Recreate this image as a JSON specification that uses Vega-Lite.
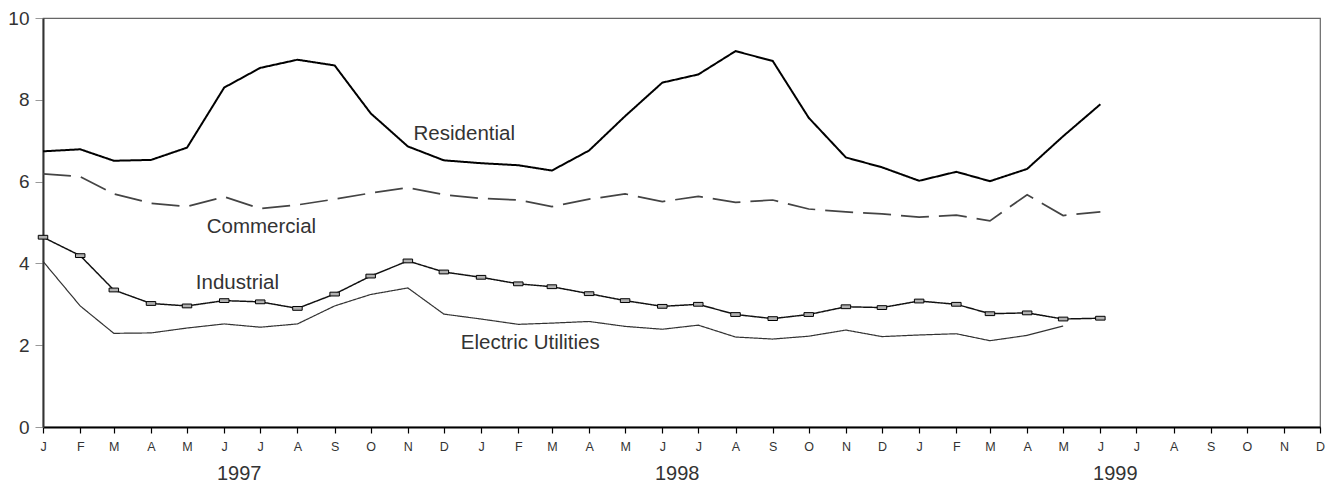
{
  "$schema": "https://vega.github.io/schema/vega-lite/v6.json",
  "width": 1277,
  "height": 409,
  "autosize": "none",
  "padding": {"left": 43, "top": 18, "right": 13, "bottom": 59},
  "background": "white",
  "config": {
    "view": {"stroke": "#666", "strokeWidth": 1.2},
    "font": "Liberation Sans",
    "axis": {"labelFont": "Liberation Sans", "grid": false}
  },
  "datasets": {
    "series": [
      {"d": "1997-01-01", "s": "Residential", "v": 6.74},
      {"d": "1997-02-01", "s": "Residential", "v": 6.79},
      {"d": "1997-03-01", "s": "Residential", "v": 6.51},
      {"d": "1997-04-01", "s": "Residential", "v": 6.53},
      {"d": "1997-05-01", "s": "Residential", "v": 6.83},
      {"d": "1997-06-01", "s": "Residential", "v": 8.30},
      {"d": "1997-07-01", "s": "Residential", "v": 8.78},
      {"d": "1997-08-01", "s": "Residential", "v": 8.98},
      {"d": "1997-09-01", "s": "Residential", "v": 8.84},
      {"d": "1997-10-01", "s": "Residential", "v": 7.67},
      {"d": "1997-11-01", "s": "Residential", "v": 6.86},
      {"d": "1997-12-01", "s": "Residential", "v": 6.52},
      {"d": "1998-01-01", "s": "Residential", "v": 6.45},
      {"d": "1998-02-01", "s": "Residential", "v": 6.40},
      {"d": "1998-03-01", "s": "Residential", "v": 6.27},
      {"d": "1998-04-01", "s": "Residential", "v": 6.76},
      {"d": "1998-05-01", "s": "Residential", "v": 7.60},
      {"d": "1998-06-01", "s": "Residential", "v": 8.42},
      {"d": "1998-07-01", "s": "Residential", "v": 8.62},
      {"d": "1998-08-01", "s": "Residential", "v": 9.19},
      {"d": "1998-09-01", "s": "Residential", "v": 8.95},
      {"d": "1998-10-01", "s": "Residential", "v": 7.56},
      {"d": "1998-11-01", "s": "Residential", "v": 6.59},
      {"d": "1998-12-01", "s": "Residential", "v": 6.35},
      {"d": "1999-01-01", "s": "Residential", "v": 6.02},
      {"d": "1999-02-01", "s": "Residential", "v": 6.24},
      {"d": "1999-03-01", "s": "Residential", "v": 6.01},
      {"d": "1999-04-01", "s": "Residential", "v": 6.31},
      {"d": "1999-05-01", "s": "Residential", "v": 7.11},
      {"d": "1999-06-01", "s": "Residential", "v": 7.89},
      {"d": "1997-01-01", "s": "Commercial", "v": 6.19},
      {"d": "1997-02-01", "s": "Commercial", "v": 6.12},
      {"d": "1997-03-01", "s": "Commercial", "v": 5.70},
      {"d": "1997-04-01", "s": "Commercial", "v": 5.47},
      {"d": "1997-05-01", "s": "Commercial", "v": 5.39},
      {"d": "1997-06-01", "s": "Commercial", "v": 5.63},
      {"d": "1997-07-01", "s": "Commercial", "v": 5.34},
      {"d": "1997-08-01", "s": "Commercial", "v": 5.43},
      {"d": "1997-09-01", "s": "Commercial", "v": 5.57},
      {"d": "1997-10-01", "s": "Commercial", "v": 5.72},
      {"d": "1997-11-01", "s": "Commercial", "v": 5.85},
      {"d": "1997-12-01", "s": "Commercial", "v": 5.68},
      {"d": "1998-01-01", "s": "Commercial", "v": 5.59},
      {"d": "1998-02-01", "s": "Commercial", "v": 5.55},
      {"d": "1998-03-01", "s": "Commercial", "v": 5.39},
      {"d": "1998-04-01", "s": "Commercial", "v": 5.57},
      {"d": "1998-05-01", "s": "Commercial", "v": 5.70},
      {"d": "1998-06-01", "s": "Commercial", "v": 5.51},
      {"d": "1998-07-01", "s": "Commercial", "v": 5.64},
      {"d": "1998-08-01", "s": "Commercial", "v": 5.49},
      {"d": "1998-09-01", "s": "Commercial", "v": 5.55},
      {"d": "1998-10-01", "s": "Commercial", "v": 5.33},
      {"d": "1998-11-01", "s": "Commercial", "v": 5.26},
      {"d": "1998-12-01", "s": "Commercial", "v": 5.21},
      {"d": "1999-01-01", "s": "Commercial", "v": 5.13},
      {"d": "1999-02-01", "s": "Commercial", "v": 5.18},
      {"d": "1999-03-01", "s": "Commercial", "v": 5.04},
      {"d": "1999-04-01", "s": "Commercial", "v": 5.68},
      {"d": "1999-05-01", "s": "Commercial", "v": 5.17},
      {"d": "1999-06-01", "s": "Commercial", "v": 5.26},
      {"d": "1997-01-01", "s": "Industrial", "v": 4.64},
      {"d": "1997-02-01", "s": "Industrial", "v": 4.19},
      {"d": "1997-03-01", "s": "Industrial", "v": 3.35},
      {"d": "1997-04-01", "s": "Industrial", "v": 3.02},
      {"d": "1997-05-01", "s": "Industrial", "v": 2.96},
      {"d": "1997-06-01", "s": "Industrial", "v": 3.09},
      {"d": "1997-07-01", "s": "Industrial", "v": 3.06},
      {"d": "1997-08-01", "s": "Industrial", "v": 2.90},
      {"d": "1997-09-01", "s": "Industrial", "v": 3.25},
      {"d": "1997-10-01", "s": "Industrial", "v": 3.69},
      {"d": "1997-11-01", "s": "Industrial", "v": 4.06},
      {"d": "1997-12-01", "s": "Industrial", "v": 3.79},
      {"d": "1998-01-01", "s": "Industrial", "v": 3.66},
      {"d": "1998-02-01", "s": "Industrial", "v": 3.50},
      {"d": "1998-03-01", "s": "Industrial", "v": 3.43},
      {"d": "1998-04-01", "s": "Industrial", "v": 3.26},
      {"d": "1998-05-01", "s": "Industrial", "v": 3.09},
      {"d": "1998-06-01", "s": "Industrial", "v": 2.95},
      {"d": "1998-07-01", "s": "Industrial", "v": 3.00},
      {"d": "1998-08-01", "s": "Industrial", "v": 2.75},
      {"d": "1998-09-01", "s": "Industrial", "v": 2.65},
      {"d": "1998-10-01", "s": "Industrial", "v": 2.75},
      {"d": "1998-11-01", "s": "Industrial", "v": 2.94},
      {"d": "1998-12-01", "s": "Industrial", "v": 2.92},
      {"d": "1999-01-01", "s": "Industrial", "v": 3.08},
      {"d": "1999-02-01", "s": "Industrial", "v": 3.00},
      {"d": "1999-03-01", "s": "Industrial", "v": 2.77},
      {"d": "1999-04-01", "s": "Industrial", "v": 2.79},
      {"d": "1999-05-01", "s": "Industrial", "v": 2.64},
      {"d": "1999-06-01", "s": "Industrial", "v": 2.66},
      {"d": "1997-01-01", "s": "Electric Utilities", "v": 4.05},
      {"d": "1997-02-01", "s": "Electric Utilities", "v": 2.96},
      {"d": "1997-03-01", "s": "Electric Utilities", "v": 2.29},
      {"d": "1997-04-01", "s": "Electric Utilities", "v": 2.30},
      {"d": "1997-05-01", "s": "Electric Utilities", "v": 2.42},
      {"d": "1997-06-01", "s": "Electric Utilities", "v": 2.52},
      {"d": "1997-07-01", "s": "Electric Utilities", "v": 2.44},
      {"d": "1997-08-01", "s": "Electric Utilities", "v": 2.52},
      {"d": "1997-09-01", "s": "Electric Utilities", "v": 2.96},
      {"d": "1997-10-01", "s": "Electric Utilities", "v": 3.24},
      {"d": "1997-11-01", "s": "Electric Utilities", "v": 3.40},
      {"d": "1997-12-01", "s": "Electric Utilities", "v": 2.76},
      {"d": "1998-01-01", "s": "Electric Utilities", "v": 2.64},
      {"d": "1998-02-01", "s": "Electric Utilities", "v": 2.51},
      {"d": "1998-03-01", "s": "Electric Utilities", "v": 2.54},
      {"d": "1998-04-01", "s": "Electric Utilities", "v": 2.58},
      {"d": "1998-05-01", "s": "Electric Utilities", "v": 2.46},
      {"d": "1998-06-01", "s": "Electric Utilities", "v": 2.39},
      {"d": "1998-07-01", "s": "Electric Utilities", "v": 2.49},
      {"d": "1998-08-01", "s": "Electric Utilities", "v": 2.20},
      {"d": "1998-09-01", "s": "Electric Utilities", "v": 2.15},
      {"d": "1998-10-01", "s": "Electric Utilities", "v": 2.22},
      {"d": "1998-11-01", "s": "Electric Utilities", "v": 2.37},
      {"d": "1998-12-01", "s": "Electric Utilities", "v": 2.21},
      {"d": "1999-01-01", "s": "Electric Utilities", "v": 2.25},
      {"d": "1999-02-01", "s": "Electric Utilities", "v": 2.28},
      {"d": "1999-03-01", "s": "Electric Utilities", "v": 2.11},
      {"d": "1999-04-01", "s": "Electric Utilities", "v": 2.24},
      {"d": "1999-05-01", "s": "Electric Utilities", "v": 2.47}
    ],
    "labels": [
      {"d": "1997-12-18", "label": "Residential", "v": 7.17},
      {"d": "1997-07-02", "label": "Commercial", "v": 4.90},
      {"d": "1997-06-12", "label": "Industrial", "v": 3.53},
      {"d": "1998-02-11", "label": "Electric Utilities", "v": 2.06}
    ]
  },
  "resolve": {"axis": {"x": "independent"}},
  "layer": [
    {
      "data": {"name": "series"},
      "mark": {"type": "line", "strokeCap": "butt", "strokeJoin": "miter"},
      "encoding": {
        "x": {
          "field": "d", "type": "temporal",
          "scale": {"type": "utc", "domain": [{"year": 1997, "month": 1, "date": 1, "utc": true}, {"year": 1999, "month": 12, "date": 1, "utc": true}], "nice": false},
          "axis": {
            "title": null, "orient": "bottom",
            "tickCount": {"interval": "month", "step": 1},
            "labelExpr": "utcFormat(datum.value, '%b')[0]",
            "labelFlush": false, "labelOverlap": false,
            "tickSize": 6, "tickColor": "#000", "tickWidth": 1.2,
            "domainColor": "#000", "domainWidth": 2,
            "labelFontSize": 12.5, "labelColor": "#333", "labelPadding": 7
          }
        },
        "y": {
          "field": "v", "type": "quantitative",
          "scale": {"domain": [0, 10], "nice": false, "zero": true},
          "axis": {
            "title": null, "values": [0, 2, 4, 6, 8, 10],
            "tickSize": 8, "tickColor": "#999", "tickWidth": 1,
            "domainColor": "#333", "domainWidth": 2,
            "labelFontSize": 19, "labelColor": "#333", "labelPadding": 6
          }
        },
        "detail": {"field": "s"},
        "color": {
          "field": "s", "type": "nominal", "legend": null,
          "scale": {"domain": ["Residential", "Commercial", "Industrial", "Electric Utilities"], "range": ["#000000", "#444444", "#111111", "#333333"]}
        },
        "strokeDash": {
          "field": "s", "type": "nominal", "legend": null,
          "scale": {"domain": ["Residential", "Commercial", "Industrial", "Electric Utilities"], "range": [[1, 0], [28, 10], [1, 0], [1, 0]]}
        },
        "strokeWidth": {
          "field": "s", "type": "nominal", "legend": null,
          "scale": {"domain": ["Residential", "Commercial", "Industrial", "Electric Utilities"], "range": [2, 1.2, 1, 1]}
        }
      }
    },
    {
      "data": {"name": "series"},
      "transform": [{"filter": "datum.s === 'Industrial'"}],
      "mark": {"type": "point", "shape": "M-1,-0.4H1V0.4H-1Z", "size": 90, "filled": true, "fill": "#b0b0b0", "stroke": "#000000", "strokeWidth": 1, "opacity": 1},
      "encoding": {
        "x": {"field": "d", "type": "temporal", "axis": null},
        "y": {"field": "v", "type": "quantitative"}
      }
    },
    {
      "data": {"name": "labels"},
      "mark": {"type": "text", "font": "Liberation Sans", "fontSize": 20.5, "color": "#333333", "align": "center", "baseline": "middle"},
      "encoding": {
        "x": {
          "field": "d", "type": "temporal",
          "axis": {
            "title": null, "orient": "bottom",
            "values": [{"year": 1997, "month": 6, "date": 13, "utc": true}, {"year": 1998, "month": 6, "date": 13, "utc": true}, {"year": 1999, "month": 6, "date": 13, "utc": true}],
            "labelExpr": "utcFormat(datum.value, '%Y')",
            "ticks": false, "domain": false, "labelFlush": false, "labelOverlap": false,
            "labelFontSize": 20, "labelColor": "#333", "labelPadding": 36
          }
        },
        "y": {"field": "v", "type": "quantitative"},
        "text": {"field": "label"}
      }
    }
  ]
}
